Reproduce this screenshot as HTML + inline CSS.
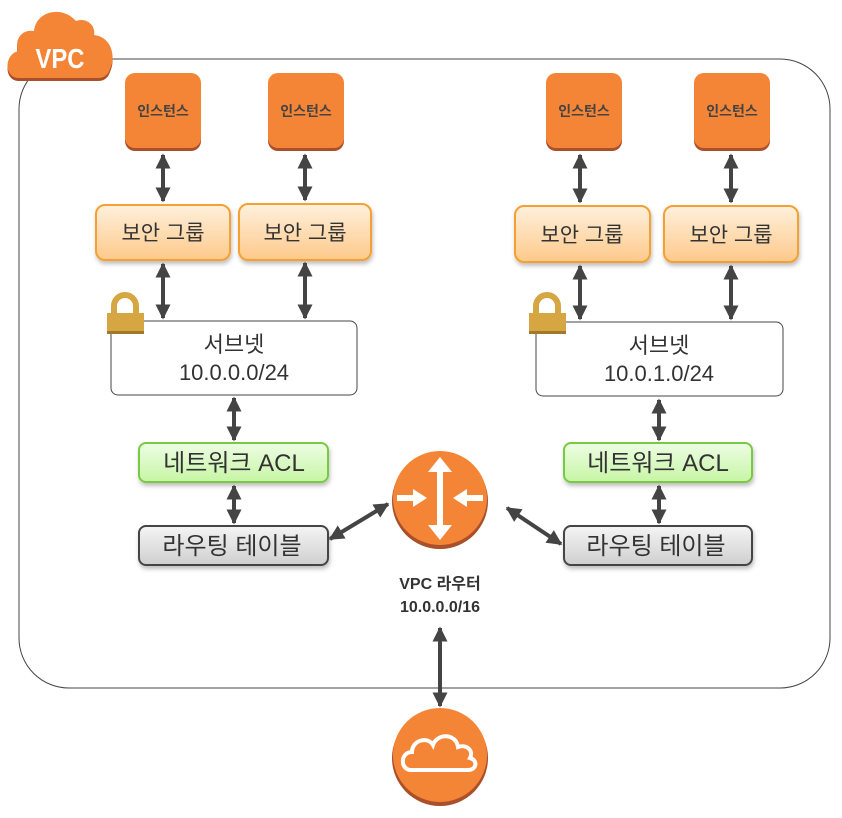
<!DOCTYPE html>
<html><head><meta charset="utf-8"><style>
html,body{margin:0;padding:0;background:#fff;}
svg{display:block;font-family:"Liberation Sans","Noto Sans CJK KR",sans-serif;}
</style></head><body>
<svg width="842" height="818" viewBox="0 0 842 818" xmlns="http://www.w3.org/2000/svg">
<defs>
<marker id="ah" viewBox="0 0 10 10" refX="9" refY="5" markerWidth="3.8" markerHeight="3.8" orient="auto-start-reverse" markerUnits="strokeWidth">
<path d="M0,0 L10,5 L0,10 z" fill="#444"/></marker>
<linearGradient id="sg" x1="0" y1="0" x2="0" y2="1"><stop offset="0" stop-color="#fff0dc"/><stop offset="1" stop-color="#fdc98a"/></linearGradient>
<linearGradient id="gg" x1="0" y1="0" x2="0" y2="1"><stop offset="0" stop-color="#eefde4"/><stop offset="1" stop-color="#c6f5a4"/></linearGradient>
<linearGradient id="rg" x1="0" y1="0" x2="0" y2="1"><stop offset="0" stop-color="#f4f4f4"/><stop offset="1" stop-color="#cfcfcf"/></linearGradient>
<filter id="sh" x="-10%" y="-10%" width="130%" height="140%"><feDropShadow dx="1" dy="3" stdDeviation="2" flood-color="#000" flood-opacity="0.25"/></filter>
</defs>
<rect x="19" y="59" width="811" height="629" rx="50" fill="none" stroke="#444" stroke-width="1"/>
<g>
<path d="M18,81 C4,80 4,58 18,54 C14,40 24,32 34,34 C36,14 62,8 76,24 C86,20 96,28 94,38 C112,40 116,60 110,72 C108,78 104,81 98,81 Z" fill="#a9502a"/>
<path d="M18,78 C4,77 4,55 18,51 C14,37 24,29 34,31 C36,11 62,5 76,21 C86,17 96,25 94,35 C112,37 116,57 110,69 C108,75 104,78 98,78 Z" fill="#f58536"/>
<text x="60" y="68" fill="#fff" font-size="28" font-weight="bold" text-anchor="middle" transform="translate(60 0) scale(0.85 1) translate(-60 0)">VPC</text>
</g>
<g font-size="14" font-weight="bold" fill="#444" text-anchor="middle">
<rect x="125" y="76" width="76" height="75" rx="10" fill="#a9502a"/><rect x="125" y="73" width="76" height="75" rx="10" fill="#f58536"/><text x="163" y="116">인스턴스</text>
<rect x="268" y="76" width="76" height="75" rx="10" fill="#a9502a"/><rect x="268" y="73" width="76" height="75" rx="10" fill="#f58536"/><text x="306" y="116">인스턴스</text>
<rect x="546" y="76" width="76" height="75" rx="10" fill="#a9502a"/><rect x="546" y="73" width="76" height="75" rx="10" fill="#f58536"/><text x="584" y="116">인스턴스</text>
<rect x="694" y="76" width="76" height="75" rx="10" fill="#a9502a"/><rect x="694" y="73" width="76" height="75" rx="10" fill="#f58536"/><text x="732" y="116">인스턴스</text>
</g>
<g font-size="21" fill="#333" text-anchor="middle">
<rect x="96" y="205" width="134" height="55" rx="9" fill="url(#sg)" stroke="#f5a030" stroke-width="2" filter="url(#sh)"/><text x="163" y="240">보안 그룹</text>
<rect x="239" y="204" width="132" height="56" rx="9" fill="url(#sg)" stroke="#f5a030" stroke-width="2" filter="url(#sh)"/><text x="305" y="240">보안 그룹</text>
<rect x="515" y="206" width="135" height="56" rx="9" fill="url(#sg)" stroke="#f5a030" stroke-width="2" filter="url(#sh)"/><text x="582" y="242">보안 그룹</text>
<rect x="664" y="206" width="134" height="56" rx="9" fill="url(#sg)" stroke="#f5a030" stroke-width="2" filter="url(#sh)"/><text x="731" y="242">보안 그룹</text>
</g>
<g font-size="22" fill="#333" text-anchor="middle">
<rect x="111" y="321" width="246" height="74" rx="7" fill="#fff" stroke="#444" stroke-width="1"/>
<text x="234" y="352">서브넷</text><text x="234" y="380">10.0.0.0/24</text>
<rect x="536" y="322" width="247" height="74" rx="7" fill="#fff" stroke="#444" stroke-width="1"/>
<text x="659" y="353">서브넷</text><text x="659" y="381">10.0.1.0/24</text>
</g>
<g>
<path d="M114,314 v-8 a11,11 0 0 1 22,0 v8" fill="none" stroke="#d6a642" stroke-width="6"/>
<rect x="107" y="313" width="37" height="20" fill="#d6a642"/><rect x="107" y="331" width="37" height="3" fill="#a07a28"/>
<path d="M536,314 v-8 a11,11 0 0 1 22,0 v8" fill="none" stroke="#d6a642" stroke-width="6"/>
<rect x="529" y="313" width="37" height="20" fill="#d6a642"/><rect x="529" y="331" width="37" height="3" fill="#a07a28"/>
</g>
<g font-size="24" fill="#333" text-anchor="middle">
<rect x="139" y="443" width="189" height="39" rx="7" fill="url(#gg)" stroke="#7ac943" stroke-width="2" filter="url(#sh)"/><text x="234" y="471">네트워크 ACL</text>
<rect x="564" y="443" width="188" height="39" rx="7" fill="url(#gg)" stroke="#7ac943" stroke-width="2" filter="url(#sh)"/><text x="658" y="471">네트워크 ACL</text>
<rect x="139" y="526" width="189" height="39" rx="7" fill="url(#rg)" stroke="#444" stroke-width="2" filter="url(#sh)"/><text x="232" y="554">라우팅 테이블</text>
<rect x="564" y="526" width="188" height="39" rx="7" fill="url(#rg)" stroke="#444" stroke-width="2" filter="url(#sh)"/><text x="656" y="554">라우팅 테이블</text>
</g>
<circle cx="440" cy="501" r="48" fill="#a9502a"/>
<circle cx="440" cy="498" r="47" fill="#f58536"/>
<g fill="#fff">
<rect x="437" y="468" width="6" height="60"/>
<path d="M440,457 L452,472 L428,472 Z"/><path d="M440,540 L452,525 L428,525 Z"/>
<rect x="397" y="495" width="18" height="6"/><path d="M427,498 L413,489 L413,507 Z"/>
<rect x="465" y="495" width="18" height="6"/><path d="M453,498 L467,489 L467,507 Z"/>
</g>
<text x="440" y="589" font-size="16" font-weight="bold" fill="#333" text-anchor="middle">VPC 라우터</text>
<text x="440" y="612" font-size="16" font-weight="bold" fill="#333" text-anchor="middle">10.0.0.0/16</text>
<circle cx="440" cy="758" r="48" fill="#a9502a"/>
<circle cx="440" cy="755" r="47" fill="#f58536"/>
<path d="M411,770 C400,770 400,752 412,752 C412,740 428,736 433,745 C437,733 456,733 458,747 C466,744 474,750 470,758 C478,760 477,770 468,770 Z" fill="none" stroke="#fff" stroke-width="4"/>
<g stroke="#444" stroke-width="4" marker-start="url(#ah)" marker-end="url(#ah)">
<line x1="163" y1="155" x2="163" y2="201"/>
<line x1="305" y1="155" x2="305" y2="200"/>
<line x1="580" y1="155" x2="580" y2="202"/>
<line x1="731" y1="155" x2="731" y2="202"/>
<line x1="163" y1="264" x2="163" y2="318"/>
<line x1="305" y1="263" x2="305" y2="318"/>
<line x1="580" y1="266" x2="580" y2="319"/>
<line x1="731" y1="266" x2="731" y2="319"/>
<line x1="234" y1="398" x2="234" y2="440"/>
<line x1="234" y1="486" x2="234" y2="523"/>
<line x1="659" y1="400" x2="659" y2="440"/>
<line x1="659" y1="486" x2="659" y2="523"/>
<line x1="330" y1="539" x2="388" y2="504"/>
<line x1="507" y1="508" x2="561" y2="544"/>
<line x1="440" y1="628" x2="440" y2="706"/>
</g>
</svg>
</body></html>
